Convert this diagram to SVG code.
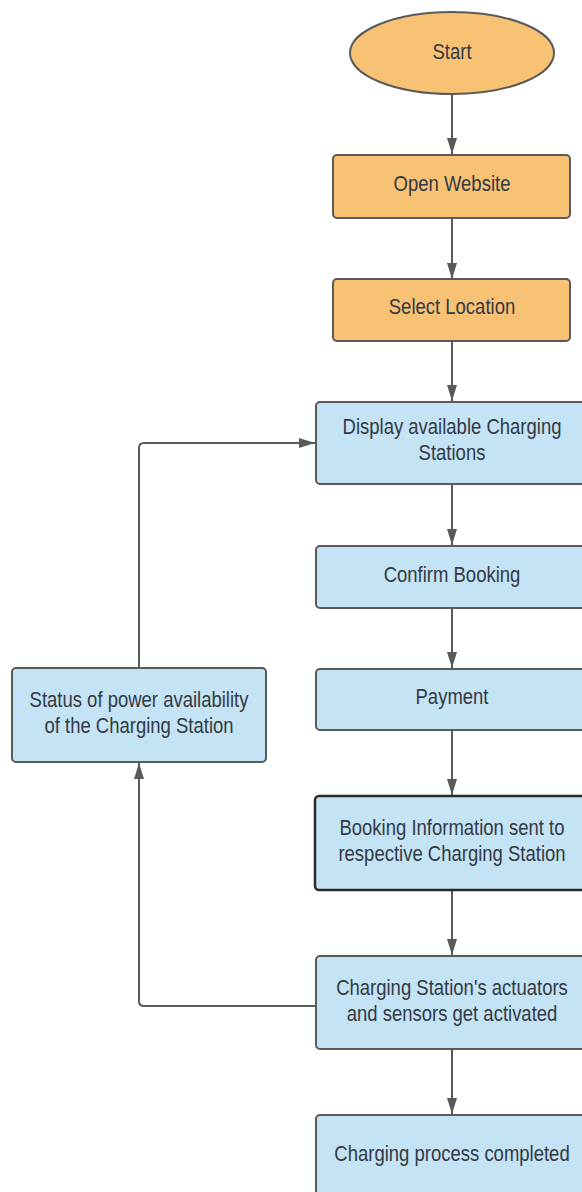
<svg xmlns="http://www.w3.org/2000/svg" width="582" height="1192" viewBox="0 0 582 1192">
<style>
.o{fill:#F8C274;stroke:#5a5a5a;stroke-width:2}
.b{fill:#C4E3F4;stroke:#5a5a5a;stroke-width:2}
.k{fill:#C4E3F4;stroke:#2a2a2a;stroke-width:2.5}
.t{font-family:"Liberation Sans",Arial,sans-serif;font-size:18.5px;fill:#333a44;text-anchor:middle}
.c{fill:none;stroke:#5a5a5a;stroke-width:2}
</style>
<defs>
<marker id="ah" viewBox="0 0 16 10" refX="16" refY="5" markerWidth="16" markerHeight="10" markerUnits="userSpaceOnUse" orient="auto">
<path d="M0,0 L16,5 L0,10 Z" fill="#5a5a5a"/>
</marker>
</defs>
<rect width="582" height="1192" fill="#fff"/>
<g id="connectors">
<path class="c" d="M452,94 V154" marker-end="url(#ah)"/>
<path class="c" d="M452,218 V279" marker-end="url(#ah)"/>
<path class="c" d="M452,341 V401" marker-end="url(#ah)"/>
<path class="c" d="M452,484 V545" marker-end="url(#ah)"/>
<path class="c" d="M452,608 V668" marker-end="url(#ah)"/>
<path class="c" d="M452,730 V795" marker-end="url(#ah)"/>
<path class="c" d="M452,890 V955" marker-end="url(#ah)"/>
<path class="c" d="M452,1049 V1114" marker-end="url(#ah)"/>
<path class="c" d="M316,1006 H144 Q139,1006 139,1001 V763" marker-end="url(#ah)"/>
<path class="c" d="M139,668 V448 Q139,443 144,443 H315" marker-end="url(#ah)"/>
</g>
<g id="start">
<ellipse class="o" cx="452" cy="53" rx="102" ry="41"/>
<text class="t" transform="translate(452,59) scale(1,1.2)">Start</text>
</g>
<g id="open-website">
<rect class="o" x="333" y="155" width="237" height="63" rx="4"/>
<text class="t" transform="translate(452,191) scale(1,1.2)">Open Website</text>
</g>
<g id="select-location">
<rect class="o" x="333" y="279" width="237" height="62" rx="4"/>
<text class="t" transform="translate(452,314) scale(1,1.2)">Select Location</text>
</g>
<g id="display">
<rect class="b" x="316" y="402" width="272" height="82" rx="4"/>
<text class="t" transform="translate(452,434) scale(1,1.2)">Display available Charging</text>
<text class="t" transform="translate(452,460) scale(1,1.2)">Stations</text>
</g>
<g id="confirm">
<rect class="b" x="316" y="546" width="272" height="62" rx="4"/>
<text class="t" transform="translate(452,582) scale(1,1.2)">Confirm Booking</text>
</g>
<g id="payment">
<rect class="b" x="316" y="669" width="272" height="61" rx="4"/>
<text class="t" transform="translate(452,704) scale(1,1.2)">Payment</text>
</g>
<g id="booking-info">
<rect class="k" x="315" y="796" width="273" height="94" rx="4"/>
<text class="t" transform="translate(452,835) scale(1,1.2)">Booking Information sent to</text>
<text class="t" transform="translate(452,861) scale(1,1.2)">respective Charging Station</text>
</g>
<g id="actuators">
<rect class="b" x="316" y="956" width="272" height="93" rx="4"/>
<text class="t" transform="translate(452,995) scale(1,1.2)">Charging Station's actuators</text>
<text class="t" transform="translate(452,1021) scale(1,1.2)">and sensors get activated</text>
</g>
<g id="completed">
<rect class="b" x="316" y="1115" width="272" height="90" rx="4"/>
<text class="t" transform="translate(452,1161) scale(1,1.2)">Charging process completed</text>
</g>
<g id="status">
<rect class="b" x="12" y="668" width="254" height="94" rx="4"/>
<text class="t" transform="translate(139,707) scale(1,1.2)">Status of power availability</text>
<text class="t" transform="translate(139,733) scale(1,1.2)">of the Charging Station</text>
</g>
</svg>
